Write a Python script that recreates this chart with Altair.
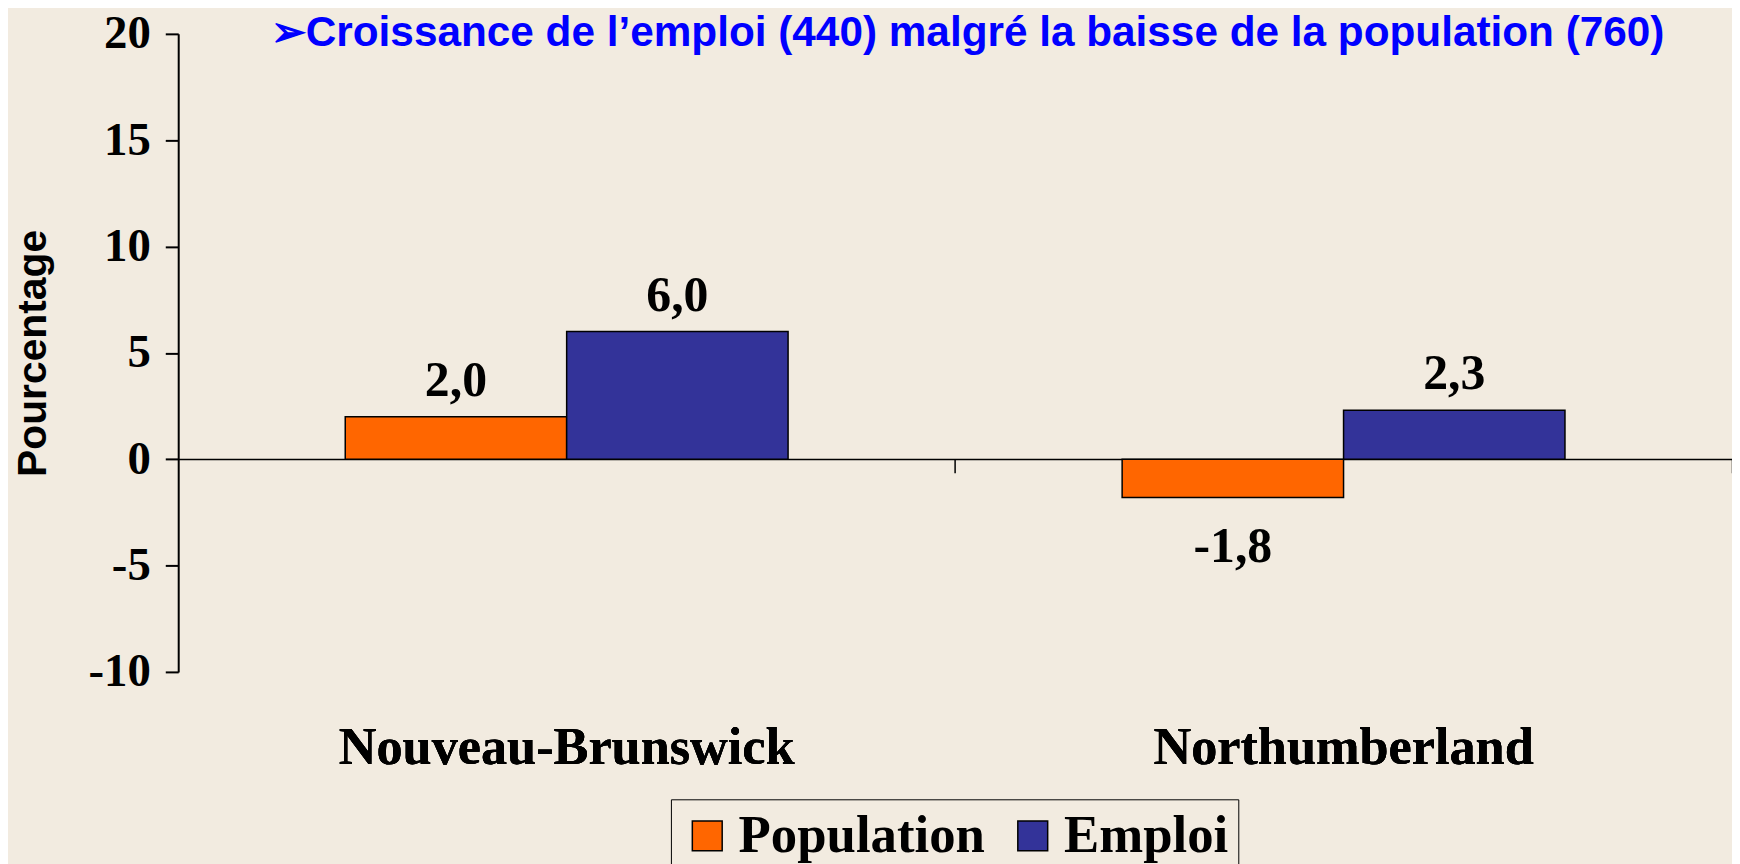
import altair as alt
import pandas as pd

regions = ["Nouveau-Brunswick", "Northumberland"]
series = ["Population", "Emploi"]
population = [2.0, -1.8]
emploi = [6.0, 2.3]
y_ticks = [-10, -5, 0, 5, 10, 15, 20]
colors = ["#FF6600", "#333399"]
title_text = "➢Croissance de l’emploi (440) malgré la baisse de la population (760)"

rows = []
for i, r in enumerate(regions):
    rows.append({"region": r, "serie": series[0], "value": population[i]})
    rows.append({"region": r, "serie": series[1], "value": emploi[i]})
df = pd.DataFrame(rows)

W, H = 1561, 641
BG = "#F2EBE0"
P_IN, P_OUT = 0.43, 0.215

x_scale = alt.Scale(type="band", paddingInner=P_IN, paddingOuter=P_OUT)

x_enc = alt.X(
    "region:N", sort=regions, title=None, scale=x_scale,
    axis=alt.Axis(orient="bottom", labelAngle=0, domain=False, ticks=False,
                  labelFont="Liberation Serif", labelFontWeight="bold", labelFontSize=52.5,
                  labelColor="black", labelPadding=51, labelLimit=0),
)
x_zero = alt.X(
    "region:N", sort=regions, title=None, scale=x_scale,
    axis=alt.Axis(orient="bottom", offset=-214, labels=False, domainColor="black",
                  domainWidth=1.5, tickColor="black", tickWidth=1.5, tickSize=14,
                  bandPosition=0.5 + 0.5 / (1 - P_IN)),
)
xo_enc = alt.XOffset("serie:N", sort=series, scale=alt.Scale(paddingInner=0, paddingOuter=0))
y_enc = alt.Y(
    "value:Q", title="Pourcentage",
    scale=alt.Scale(domain=[-10, 20], nice=False),
    axis=alt.Axis(values=y_ticks, labelExpr="'' + datum.value", grid=False,
                  domainColor="black", domainWidth=2, tickColor="black", tickWidth=2,
                  tickSize=13, labelFont="Liberation Serif", labelFontWeight="bold",
                  labelFontSize=47, labelColor="black", labelPadding=15,
                  titleFont="Liberation Sans", titleFontSize=41, titleFontWeight="bold",
                  titleColor="black", titlePadding=34),
)

base = alt.Chart(df).transform_calculate(
    label="replace(replace(format(datum.value, '.1f'), '.', ','), '\u2212', '-')"
)

bars = base.mark_bar(stroke="black", strokeWidth=1.5, opacity=1).encode(
    x=x_enc, xOffset=xo_enc, y=y_enc,
    color=alt.Color(
        "serie:N", sort=series, scale=alt.Scale(domain=series, range=colors),
        legend=alt.Legend(title=None, orient="none", legendX=495, legendY=769,
                          direction="horizontal", symbolType="square", symbolSize=900,
                          symbolStrokeColor="black", symbolStrokeWidth=1.5, symbolOpacity=1,
                          labelFont="Liberation Serif", labelFontWeight="bold",
                          labelFontSize=53, labelColor="black", labelOffset=5,
                          columnPadding=21, padding=10, strokeColor="black",
                          labelLimit=0, fillColor=BG),
    ),
)

zero_axis = base.mark_tick(opacity=0).encode(x=x_zero)

pos = base.transform_filter("datum.value >= 0").mark_text(
    font="Liberation Serif", fontWeight="bold", fontSize=50, baseline="alphabetic",
    dy=-21, color="black",
).encode(x=x_enc, xOffset=xo_enc, y=y_enc, text="label:N")

neg = base.transform_filter("datum.value < 0").mark_text(
    font="Liberation Serif", fontWeight="bold", fontSize=50, baseline="top",
    dy=25, color="black",
).encode(x=x_enc, xOffset=xo_enc, y=y_enc, text="label:N")

chart = alt.layer(bars, zero_axis, pos, neg).resolve_axis(x="independent").properties(
    width=W, height=H,
    title=alt.TitleParams(title_text, anchor="start", frame="group", dx=93, offset=-79,
                          baseline="alphabetic", font="Liberation Sans", fontSize=42.5,
                          fontWeight="bold", color="#0000FF"),
    autosize=alt.AutoSizeParams(type="none"),
    padding={"left": 171, "top": 24, "right": 0, "bottom": 191},
    background=BG,
).configure_view(stroke=None)

chart.save("out.html", embed_options={"renderer": "svg", "actions": False})
